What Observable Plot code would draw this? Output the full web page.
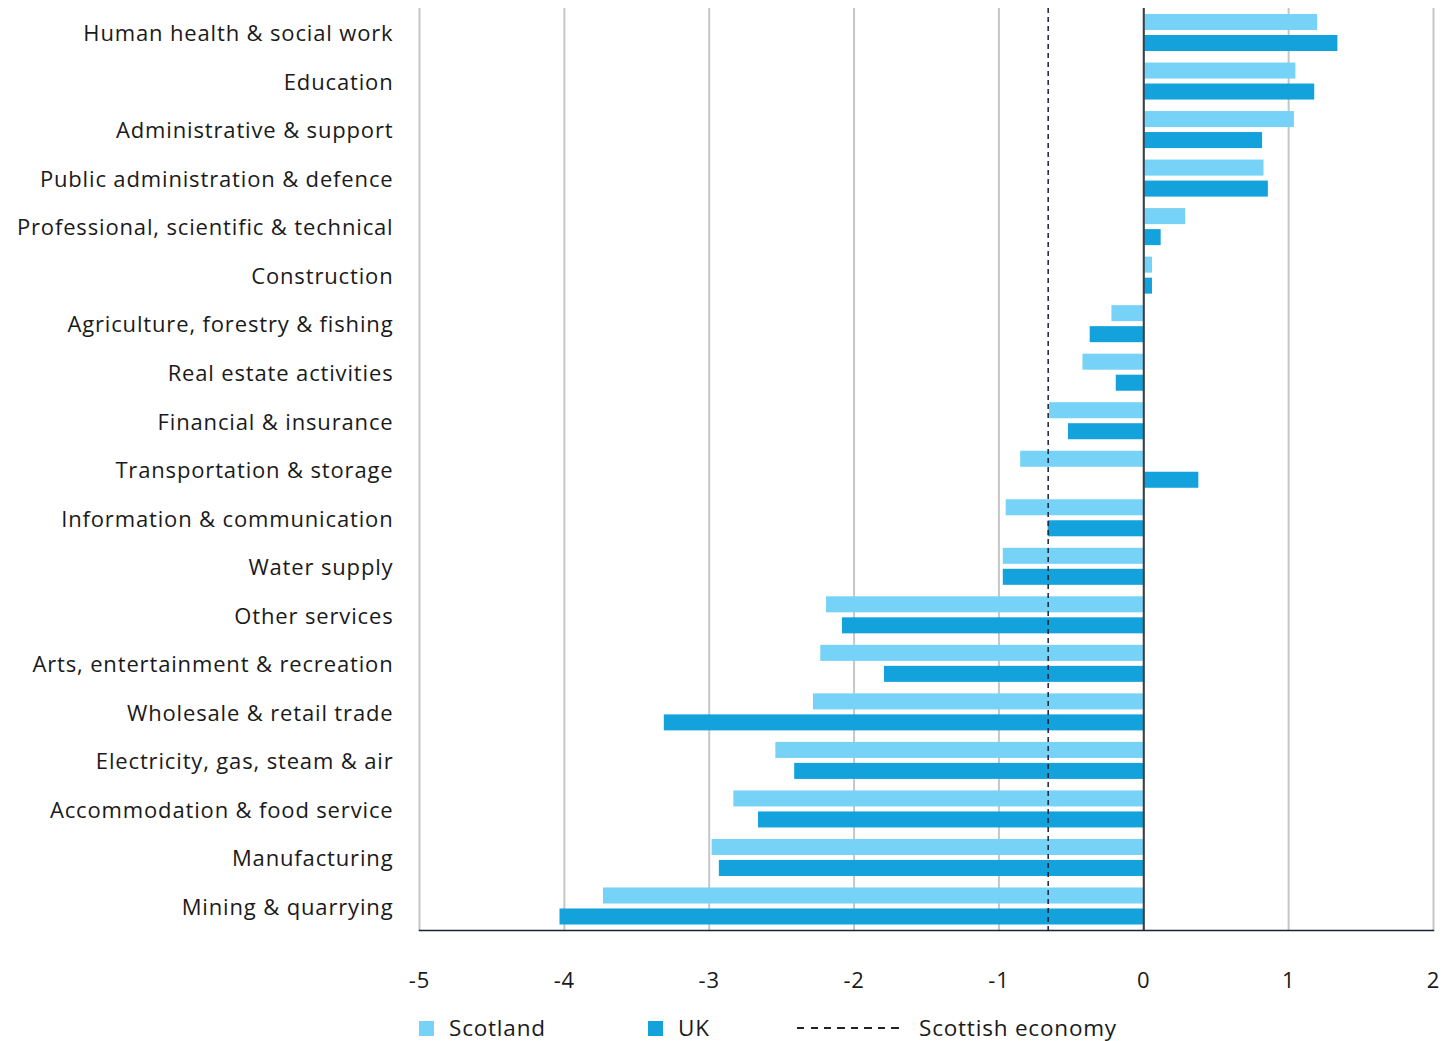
<!DOCTYPE html>
<html>
<head>
<meta charset="utf-8">
<script src="https://cdn.jsdelivr.net/npm/d3@7"></script>
<script src="https://cdn.jsdelivr.net/npm/@observablehq/plot@0.6"></script>
<style>
  body { margin: 0; background: #fff; font-family: "Open Sans", Roboto, sans-serif; color: #1a1a1a; }
  #chart { width: 1455px; }
  #chart svg { display: block; }
  .key { position: relative; width: 1455px; height: 30px; margin-top: 0; font-size: 22.5px; letter-spacing: 0.8px; line-height: 30px; }
  .key .item { position: absolute; top: 0; display: flex; align-items: center; height: 30px; white-space: nowrap; }
  .key .sw { display: inline-block; width: 15px; height: 15px; margin-right: 15px; }
  .key .dash {
    display: inline-block; width: 108px; height: 1.5px; margin-right: 14px;
    background: repeating-linear-gradient(to right, #222 0 7px, transparent 7px 13.5px);
  }
</style>
</head>
<body>
<div id="chart"></div>
<script>
// Industries, top to bottom
const categories = [
  "Human health & social work",
  "Education",
  "Administrative & support",
  "Public administration & defence",
  "Professional, scientific & technical",
  "Construction",
  "Agriculture, forestry & fishing",
  "Real estate activities",
  "Financial & insurance",
  "Transportation & storage",
  "Information & communication",
  "Water supply",
  "Other services",
  "Arts, entertainment & recreation",
  "Wholesale & retail trade",
  "Electricity, gas, steam & air",
  "Accommodation & food service",
  "Manufacturing",
  "Mining & quarrying"
];
const scotland = [1.20, 1.05, 1.04, 0.83, 0.29, 0.06, -0.22, -0.42, -0.65, -0.85, -0.95, -0.97, -2.19, -2.23, -2.28, -2.54, -2.83, -2.98, -3.73];
const uk = [1.34, 1.18, 0.82, 0.86, 0.12, 0.06, -0.37, -0.19, -0.52, 0.38, -0.66, -0.97, -2.08, -1.79, -3.31, -2.41, -2.66, -2.93, -4.03];
const scottishEconomy = -0.66;
const xTicks = [-5, -4, -3, -2, -1, 0, 1, 2];

const colors = { Scotland: "#76d2f7", UK: "#13a2dc" };
const font = "'Open Sans', Roboto, sans-serif";

const scotRows = categories.map((c, i) => ({ category: c, value: scotland[i] }));
const ukRows = categories.map((c, i) => ({ category: c, value: uk[i] }));

const chart = Plot.plot({
  width: 1455,
  height: 1013,
  marginLeft: 419,
  marginRight: 22,
  marginTop: 8,
  marginBottom: 83,
  style: { fontFamily: font, fontSize: "22px", letterSpacing: "0.85px", color: "#1a1a1a", background: "#fff" },
  x: { domain: [-5, 2], ticks: xTicks, tickFormat: d => String(d) },
  y: { domain: categories, padding: 0, round: false },
  marks: [
    Plot.ruleX(xTicks, { stroke: "#c4c6c8", strokeWidth: 2 }),
    Plot.barX(scotRows, { x: "value", y: "category", fill: colors.Scotland, insetTop: 6, insetBottom: 26.5 }),
    Plot.barX(ukRows, { x: "value", y: "category", fill: colors.UK, insetTop: 27, insetBottom: 5.5 }),
    Plot.ruleX([0], { stroke: "#3a3f47", strokeWidth: 2 }),
    Plot.ruleX([scottishEconomy], { stroke: "#1c2233", strokeWidth: 1.5, strokeDasharray: "5,4" }),
    Plot.axisX({ ticks: xTicks, tickSize: 0, tickPadding: 42, tickFormat: d => String(d), label: null, fontSize: 22 }),
    Plot.axisY({ tickSize: 0, tickPadding: 26, label: null, fontSize: 22, dy: 1.5 }),
    Plot.frame({ anchor: "bottom", stroke: "#1c2233", strokeWidth: 1.5 })
  ]
});

const host = document.getElementById("chart");
host.appendChild(chart);

// Legend below the plot
const key = document.createElement("div");
key.className = "key";
key.innerHTML = `
  <div class="item" style="left:419px"><span class="sw" style="background:${colors.Scotland}"></span>Scotland</div>
  <div class="item" style="left:648px"><span class="sw" style="background:${colors.UK}"></span>UK</div>
  <div class="item" style="left:797px"><span class="dash"></span>Scottish economy</div>`;
host.appendChild(key);
</script>
</body>
</html>
